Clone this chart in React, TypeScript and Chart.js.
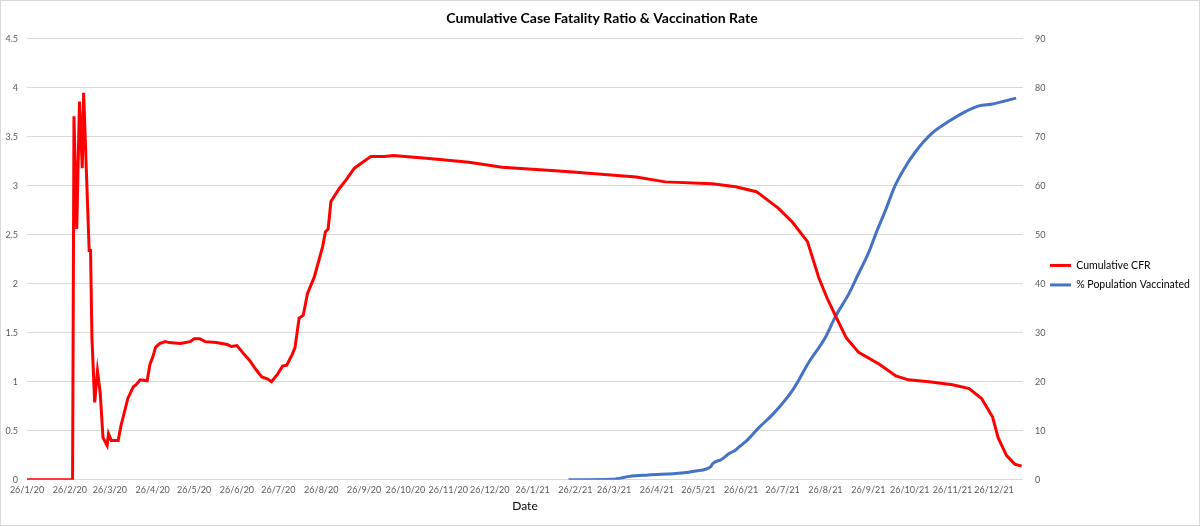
import { useEffect, useRef } from 'react';
import { Chart, registerables } from 'chart.js';

Chart.register(...registerables);

// day 0 = 26/1/20
const START = Date.UTC(2020, 0, 26);

const tickLabels = [
  '26/1/20', '26/2/20', '26/3/20', '26/4/20', '26/5/20', '26/6/20',
  '26/7/20', '26/8/20', '26/9/20', '26/10/20', '26/11/20', '26/12/20',
  '26/1/21', '26/2/21', '26/3/21', '26/4/21', '26/5/21', '26/6/21',
  '26/7/21', '26/8/21', '26/9/21', '26/10/21', '26/11/21', '26/12/21',
];

// Cumulative CFR (days since 26/1/20, value in %)
const cfrDays = [
  0, 33, 34, 36, 38, 40, 41, 45, 46, 47, 49, 51, 53, 55, 58, 59, 61, 66, 68, 73,
  77, 79, 82, 87, 89, 91, 93, 96, 100, 103, 111, 118, 121, 125, 129, 137, 145, 148,
  152, 156, 161, 166, 170, 174, 177, 181, 185, 188, 192, 194, 197, 200, 203, 208,
  214, 216, 218, 220, 226, 231, 237, 243, 249, 259, 265, 289, 320, 344, 385, 395,
  441, 462, 496, 513, 528, 530, 544, 554, 565, 573, 579, 585, 593, 602, 617, 629,
  638, 653, 670, 682, 691, 699, 703, 709, 715, 720,
];
const cfrValues = [
  0, 0, 3.71, 2.56, 3.86, 3.18, 3.95, 2.34, 2.34, 1.45, 0.79, 1.11, 0.89, 0.43, 0.35, 0.47, 0.4, 0.4, 0.55, 0.83,
  0.95, 0.97, 1.02, 1.01, 1.18, 1.25, 1.35, 1.39, 1.41, 1.4, 1.39, 1.41, 1.44, 1.44, 1.41, 1.4, 1.38, 1.36,
  1.37, 1.3, 1.22, 1.12, 1.05, 1.03, 1.0, 1.07, 1.16, 1.17, 1.28, 1.35, 1.65, 1.68, 1.9, 2.07,
  2.38, 2.53, 2.56, 2.84, 2.97, 3.06, 3.18, 3.24, 3.3, 3.3, 3.31, 3.28, 3.24, 3.19, 3.15, 3.14,
  3.09, 3.04, 3.02, 2.99, 2.94, 2.92, 2.77, 2.63, 2.43, 2.07, 1.86, 1.68, 1.45, 1.3, 1.18, 1.06,
  1.02, 1.0, 0.97, 0.93, 0.83, 0.64, 0.43, 0.25, 0.16, 0.14,
];

// % Population Vaccinated (days since 26/1/20, value in %)
const vacDays = [
  392, 424, 436, 450, 474, 484, 495, 496, 503, 508, 513, 518, 521, 530, 540, 554,
  566, 578, 585, 595, 602, 609, 615, 622, 628, 635, 643, 655, 667, 679, 689, 699, 716,
];
const vacValues = [
  0, 0.1, 0.7, 1.0, 1.4, 1.8, 2.7, 3.2, 4.2, 5.3, 6.1, 7.3, 8.0, 10.7, 13.4, 18.2,
  24.0, 29.1, 33.2, 38.0, 42.1, 46.2, 50.6, 55.4, 59.8, 63.5, 66.9, 70.7, 73.1, 75.1, 76.3, 76.7, 77.9,
];

const dayOf = (label: string) => {
  const [d, m, y] = label.split('/').map(Number);
  return Math.round((Date.UTC(2000 + y, m - 1, d) - START) / 86400000);
};
const tickDays = tickLabels.map(dayOf);

const FONT = 'Lato, "Open Sans", sans-serif';

// nudge the legend a little to the left, closer to the right axis
const legendNudge = {
  id: 'legendNudge',
  afterLayout(chart: any) {
    const l = chart.legend;
    if (!l) return;
    l.left -= 6;
    l.right -= 6;
  },
};

export default function App() {
  const canvasRef = useRef<HTMLCanvasElement>(null);

  useEffect(() => {
    document.body.style.margin = '0';
    if (!canvasRef.current) return;

    const chart = new Chart(canvasRef.current, {
      type: 'line',
      data: {
        datasets: [
          {
            label: 'Cumulative CFR',
            data: cfrDays.map((d, i) => ({ x: d, y: cfrValues[i] })),
            borderColor: '#ff0000',
            backgroundColor: '#ff0000',
            borderWidth: 3,
            pointRadius: 0,
            tension: 0,
            yAxisID: 'y',
          },
          {
            label: '% Population Vaccinated',
            data: vacDays.map((d, i) => ({ x: d, y: vacValues[i] })),
            borderColor: '#4472c4',
            backgroundColor: '#4472c4',
            borderWidth: 3,
            pointRadius: 0,
            cubicInterpolationMode: 'monotone',
            yAxisID: 'y1',
          },
        ],
      },
      options: {
        responsive: true,
        maintainAspectRatio: false,
        animation: false,
        layout: { padding: { left: 4, right: 0, bottom: 12 } },
        scales: {
          x: {
            type: 'linear',
            min: 0,
            max: 721,
            afterBuildTicks: (scale: any) => {
              scale.ticks = tickDays.map((v) => ({ value: v }));
            },
            ticks: {
              autoSkip: false,
              maxRotation: 0,
              color: '#595959',
              font: { family: FONT, size: 9 },
              padding: 5,
              callback: (v: any) => {
                const i = tickDays.indexOf(v);
                return i >= 0 ? tickLabels[i] : '';
              },
            },
            grid: { display: false, drawTicks: false },
            border: { display: false },
            title: {
              display: true,
              text: 'Date',
              color: '#000',
              font: { family: FONT, size: 12 },
              padding: { top: -2, bottom: 0 },
            },
          },
          y: {
            position: 'left',
            min: 0,
            max: 4.5,
            afterFit: (scale: any) => {
              scale.width = 22;
            },
            ticks: {
              stepSize: 0.5,
              color: '#595959',
              font: { family: FONT, size: 9 },
              padding: 9,
              callback: (v: any) => `${+Number(v).toFixed(1)}`,
            },
            grid: { color: '#d9d9d9', drawTicks: false },
            border: { display: false },
          },
          y1: {
            position: 'right',
            min: 0,
            max: 90,
            afterFit: (scale: any) => {
              scale.width = 24;
            },
            ticks: {
              stepSize: 10,
              color: '#595959',
              font: { family: FONT, size: 9 },
              padding: 12,
            },
            grid: { drawOnChartArea: false, drawTicks: false },
            border: { display: false },
          },
        },
        plugins: {
          title: {
            display: true,
            text: 'Cumulative Case Fatality Ratio & Vaccination Rate',
            color: '#000',
            font: { family: FONT, size: 14, weight: 'bold' },
            padding: { top: 9, bottom: 12 },
          },
          legend: {
            position: 'right',
            maxWidth: 152,
            title: { display: true, text: '', padding: 11, font: { size: 12 } },
            labels: {
              color: '#000',
              font: { family: FONT, size: 10.5 },
              usePointStyle: true,
              pointStyle: 'line',
              pointStyleWidth: 21,
              padding: 9,
            },
          },
          tooltip: { enabled: false },
        },
      },
      plugins: [legendNudge],
    });

    return () => {
      chart.destroy();
    };
  }, []);

  return (
    <div
      style={{
        width: 1200,
        height: 526,
        position: 'relative',
        boxSizing: 'border-box',
        border: '1px solid #d9d9d9',
        background: '#fff',
      }}
    >
      <canvas ref={canvasRef}></canvas>
    </div>
  );
}
